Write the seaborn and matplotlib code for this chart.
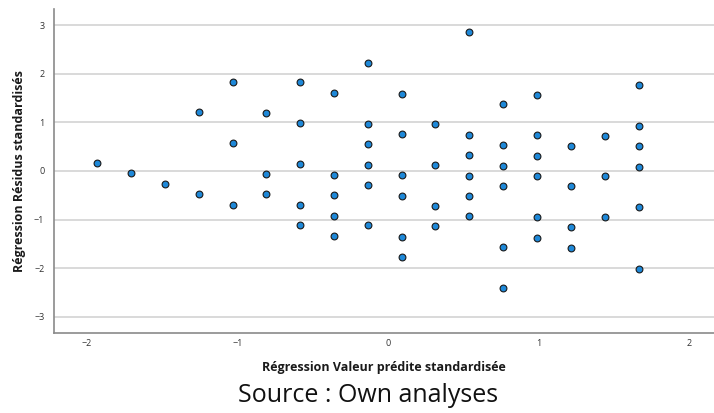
import matplotlib
matplotlib.use("Agg")
import matplotlib.pyplot as plt
import seaborn as sns
import pandas as pd

# Standardised predicted value (x) per column
columns = [-1.934, -1.708, -1.482, -1.256, -1.030, -0.811, -0.585, -0.359,
           -0.133, 0.093, 0.312, 0.538, 0.764, 0.990, 1.216, 1.442, 1.668]

# Standardised residuals for each column
residuals = [
    [0.17],
    [-0.04],
    [-0.26],
    [1.21, -0.47],
    [1.83, 0.57, -0.69],
    [1.20, -0.06, -0.48],
    [1.82, 0.98, 0.14, -0.70, -1.12],
    [1.61, -0.08, -0.49, -0.92, -1.33],
    [2.23, 0.97, 0.55, 0.13, -0.29, -1.12],
    [1.59, 0.76, -0.08, -0.51, -1.35, -1.77],
    [0.96, 0.12, -0.72, -1.14],
    [2.85, 0.75, 0.32, -0.10, -0.51, -0.93],
    [1.37, 0.53, 0.11, -0.31, -1.57, -2.41],
    [1.57, 0.74, 0.31, -0.10, -0.94, -1.37],
    [0.52, -0.31, -1.16, -1.58],
    [0.72, -0.11, -0.95],
    [1.77, 0.93, 0.51, 0.09, -0.74, -2.01],
]

x_ticks = [-2, -1, 0, 1, 2]
y_ticks = [-3, -2, -1, 0, 1, 2, 3]
x_label = "Régression Valeur prédite standardisée"
y_label = "Régression Résidus standardisés"
source = "Source : Own analyses"

pred = []
resid = []
for cx, ys in zip(columns, residuals):
    for y in ys:
        pred.append(cx)
        resid.append(y)
df = pd.DataFrame({"pred": pred, "resid": resid})

sns.set_theme(style="white")
plt.rcParams["font.family"] = ["Open Sans", "DejaVu Sans"]

fig = plt.figure(figsize=(7.14, 4.13), dpi=100)
ax = fig.add_axes([54 / 714, 1 - 333 / 413, 1 - 54 / 714, (333 - 9) / 413])

sns.scatterplot(data=df, x="pred", y="resid", ax=ax, s=24, color="#1e88d8",
                edgecolor="#1a1a1a", linewidth=0.8, zorder=3)

ax.set_xlim(-2.22, 2.165)
ax.set_ylim(-3.33, 3.33)
ax.set_xticks(x_ticks)
ax.set_yticks(y_ticks)
ax.set_xticklabels([f"\u2212{abs(t)}" if t < 0 else str(t) for t in x_ticks])
ax.set_yticklabels([f"\u2212{abs(t)}" if t < 0 else str(t) for t in y_ticks])
ax.tick_params(axis="both", labelsize=6.5, colors="#333333", length=0)
ax.tick_params(axis="x", pad=4)
ax.tick_params(axis="y", pad=7)
ax.yaxis.grid(True, color="#cfcfcf", linewidth=1.1)
ax.xaxis.grid(False)
ax.set_axisbelow(True)
for side in ["top", "right"]:
    ax.spines[side].set_visible(False)
for side in ["left", "bottom"]:
    ax.spines[side].set_color("#8a8a8a")
    ax.spines[side].set_linewidth(1.2)

ax.set_xlabel(x_label, fontsize=9, fontweight="bold", color="#1a1a1a", labelpad=10)
ax.set_ylabel(y_label, fontsize=9, fontweight="bold", color="#1a1a1a", labelpad=6)

fig.text(368 / 714, 1 - 396 / 413, source, ha="center", va="center",
         fontsize=18, color="#111111")

fig.savefig("out.png", dpi=100)
